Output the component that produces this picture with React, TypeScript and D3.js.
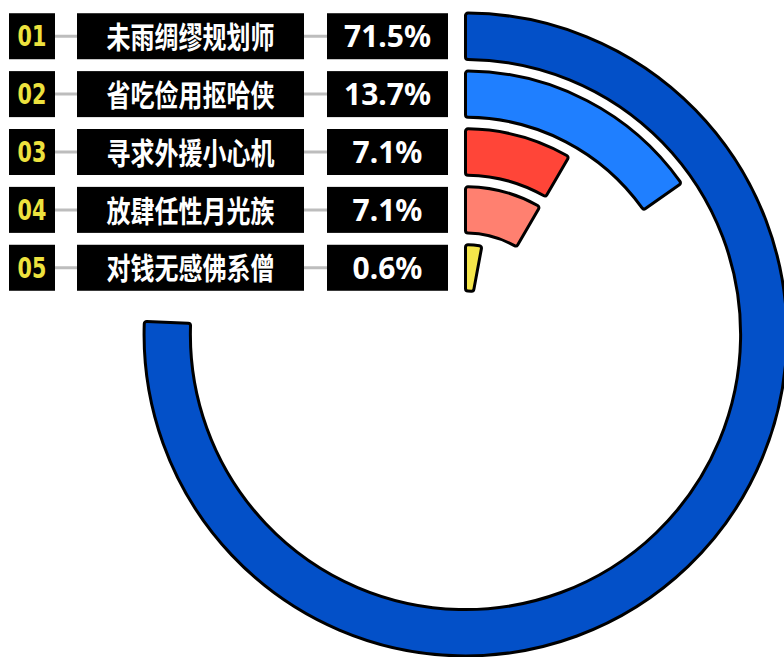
import React from "react";
import * as d3 from "d3";

const ranks = ["01", "02", "03", "04", "05"];
const names = ["未雨绸缪规划师", "省吃俭用抠哈侠", "寻求外援小心机", "放肆任性月光族", "对钱无感佛系僧"];
const values = [71.5, 13.7, 7.1, 7.1, 0.6];
const colors = ["#0350C8", "#1F7FFF", "#FF4538", "#FF8070", "#F5E64A"];

const W = 784;
const H = 657;
const cx = 465.5;
const cy = 334.5;
const deg = Math.PI / 180;
const minAngle = 10.5 * deg;

export default function App() {
  const rScale = d3.scaleBand<string>().domain(names).range([333, 32]).padding(0.2);
  const aScale = d3.scaleLinear().domain([0, 100]).range([3.5 * deg, 379.5 * deg]);
  const arc = d3.arc<any>().cornerRadius(2.5);
  const bw = rScale.bandwidth();

  return (
    <div style={{ position: "absolute", left: 0, top: 0 }}>
      <svg width={W} height={H} style={{ display: "block" }}>
        <rect width={W} height={H} fill="#fff" />
        <g transform={`translate(${cx},${cy})`}>
          {names.map((n, i) => {
            const r0 = rScale(n)!;
            const d = arc({
              innerRadius: r0,
              outerRadius: r0 + bw,
              startAngle: 0,
              endAngle: Math.max(minAngle, aScale(values[i])),
            });
            return (
              <path
                key={n}
                d={d || ""}
                fill={colors[i]}
                stroke="#000"
                strokeWidth={3}
                strokeLinejoin="round"
              />
            );
          })}
        </g>
        {names.map((n, i) => {
          const y = cy - (rScale(n)! + bw / 2);
          return (
            <g key={"row" + n}>
              <line x1={55} x2={327} y1={y} y2={y} stroke="#BDBDBD" strokeWidth={3} />
              <rect x={9} y={y - 23} width={46} height={46} fill="#000" />
              <rect x={77} y={y - 23} width={227} height={46} fill="#000" />
              <rect x={327} y={y - 23} width={121} height={46} fill="#000" />
              <g transform={`translate(32,${y}) scale(0.74,1.02)`}>
                <text
                  x={0}
                  y={10}
                  textAnchor="middle"
                  fontFamily="'DejaVu Sans', sans-serif"
                  fontWeight={700}
                  fontSize={28}
                  fill="#EDE23E"
                >
                  {ranks[i]}
                </text>
              </g>
              <g transform={`translate(190.5,${y + 1}) scale(1,1.25)`}>
                <text
                  x={0}
                  y={8.5}
                  textAnchor="middle"
                  fontFamily="'Noto Sans CJK SC', sans-serif"
                  fontWeight={700}
                  fontSize={24}
                  fill="#fff"
                >
                  {names[i]}
                </text>
              </g>
              <text
                x={387.5}
                y={y + 11}
                textAnchor="middle"
                fontFamily="'Noto Sans', sans-serif"
                fontWeight={700}
                fontSize={30}
                fill="#fff"
              >
                {values[i] + "%"}
              </text>
            </g>
          );
        })}
      </svg>
    </div>
  );
}
